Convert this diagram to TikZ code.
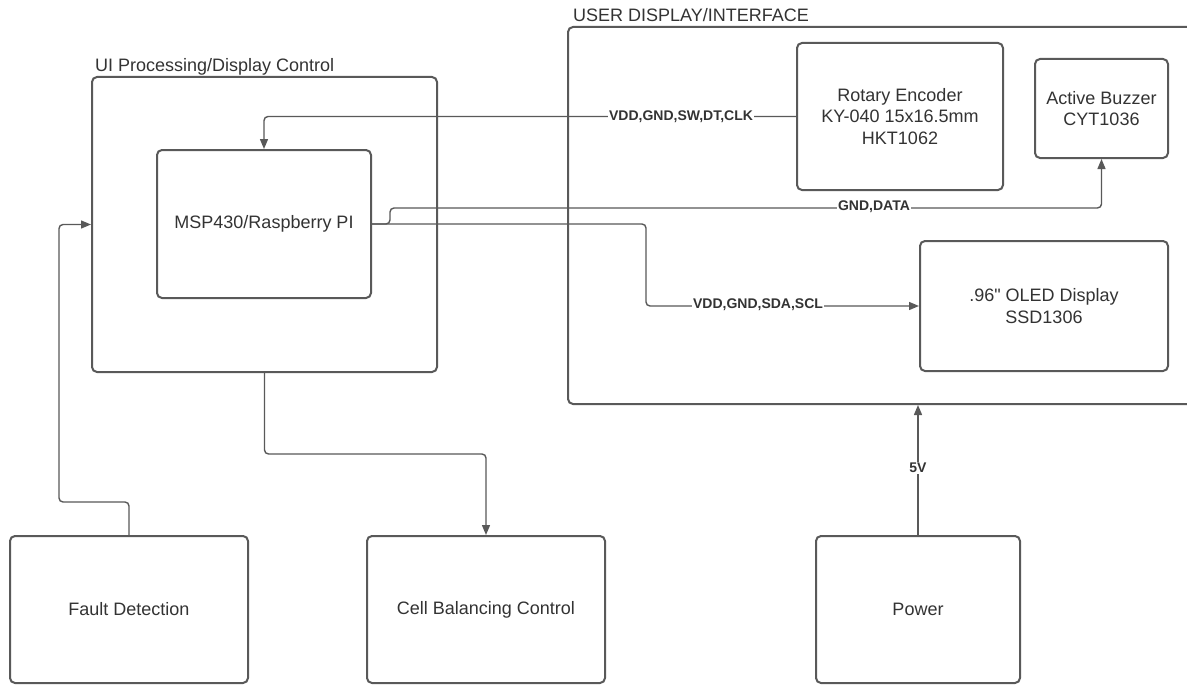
\documentclass[tikz,border=0pt]{standalone}
\usepackage{fontspec}
\setmainfont{Liberation Sans}
\newfontfamily\qfont{Liberation Sans}[Ligatures=TeXOff]
\usetikzlibrary{arrows.meta}
\definecolor{ln}{HTML}{595959}
\definecolor{tx}{HTML}{333333}
\begin{document}
\begin{tikzpicture}[x=1pt,y=-1pt,
  box/.style={draw=ln, line width=2pt, rounded corners=5pt, fill=none, align=center, text=tx,
    font=\fontsize{18}{21.6}\selectfont, inner sep=0pt},
  conn/.style={draw=ln, line width=1.4pt, rounded corners=4pt, -{Triangle[length=10pt,width=8pt]}},
  lbl/.style={fill=white, text=tx, inner sep=1pt, font=\bfseries\fontsize{14}{16}\selectfont},
  ttl/.style={text=tx, inner sep=0pt, font=\fontsize{18}{21.6}\selectfont}]
\useasboundingbox (0,0) rectangle (1187,685);
\clip (0,0) rectangle (1187,685);
\fill[white] (0,0) rectangle (1187,685);

% containers
\node[box, minimum width=345pt, minimum height=295pt] (ui) at (264.5,224.5) {};
\node[box, minimum width=214pt, minimum height=148pt] (msp) at (264,224) {MSP430/Raspberry PI};
\node[box, minimum width=632pt, minimum height=377pt] (ud) at (884,215.5) {};
\node[ttl, anchor=base west] (uit) at (95,72) {UI Processing/Display Control};
\node[ttl, anchor=base west] (udt) at (573,22) {USER DISPLAY/INTERFACE};

% inner boxes
\node[box, minimum width=206pt, minimum height=147pt] (enc) at (900,116.5) {Rotary Encoder\\KY-040 15x16.5mm\\HKT1062};
\node[box, minimum width=133pt, minimum height=99pt] (buz) at (1101.5,108.5) {Active Buzzer\\CYT1036};
\node[box, minimum width=248pt, minimum height=130pt] (oled) at (1044,306) {{\qfont .96"} OLED Display\\SSD1306};

% bottom boxes
\node[box, minimum width=238pt, minimum height=147pt] (fault) at (129,609.5) {Fault Detection};
\node[box, minimum width=238pt, minimum height=147pt] (cell) at (486,609.5) {Cell Balancing Control};
\node[box, minimum width=204pt, minimum height=147pt] (power) at (918,609.5) {Power};

% connectors
\draw[conn] (enc.west) -| (msp.north);
\node[lbl] (l1) at (681,116.5) {VDD,GND,SW,DT,CLK};

\draw[conn] (msp.east) -- (390,224) -- (390,208) -- (1101.5,208) -- (buz.south);
\node[lbl] (l2) at (874,207) {GND,DATA};

\draw[conn] (msp.east) -- (646,224) |- (oled.west);
\node[lbl] (l3) at (758,305) {VDD,GND,SDA,SCL};

\draw[conn] (fault.north) -- (129,502) -| (59,224.5) -- (ui.west);
\draw[conn] (ui.south) -- (264.5,454) -| (cell.north);

\draw[conn] (power.north) -- (power.north |- ud.south);
\node[lbl] (l4) at (918,468) {5V};
\end{tikzpicture}
\end{document}
